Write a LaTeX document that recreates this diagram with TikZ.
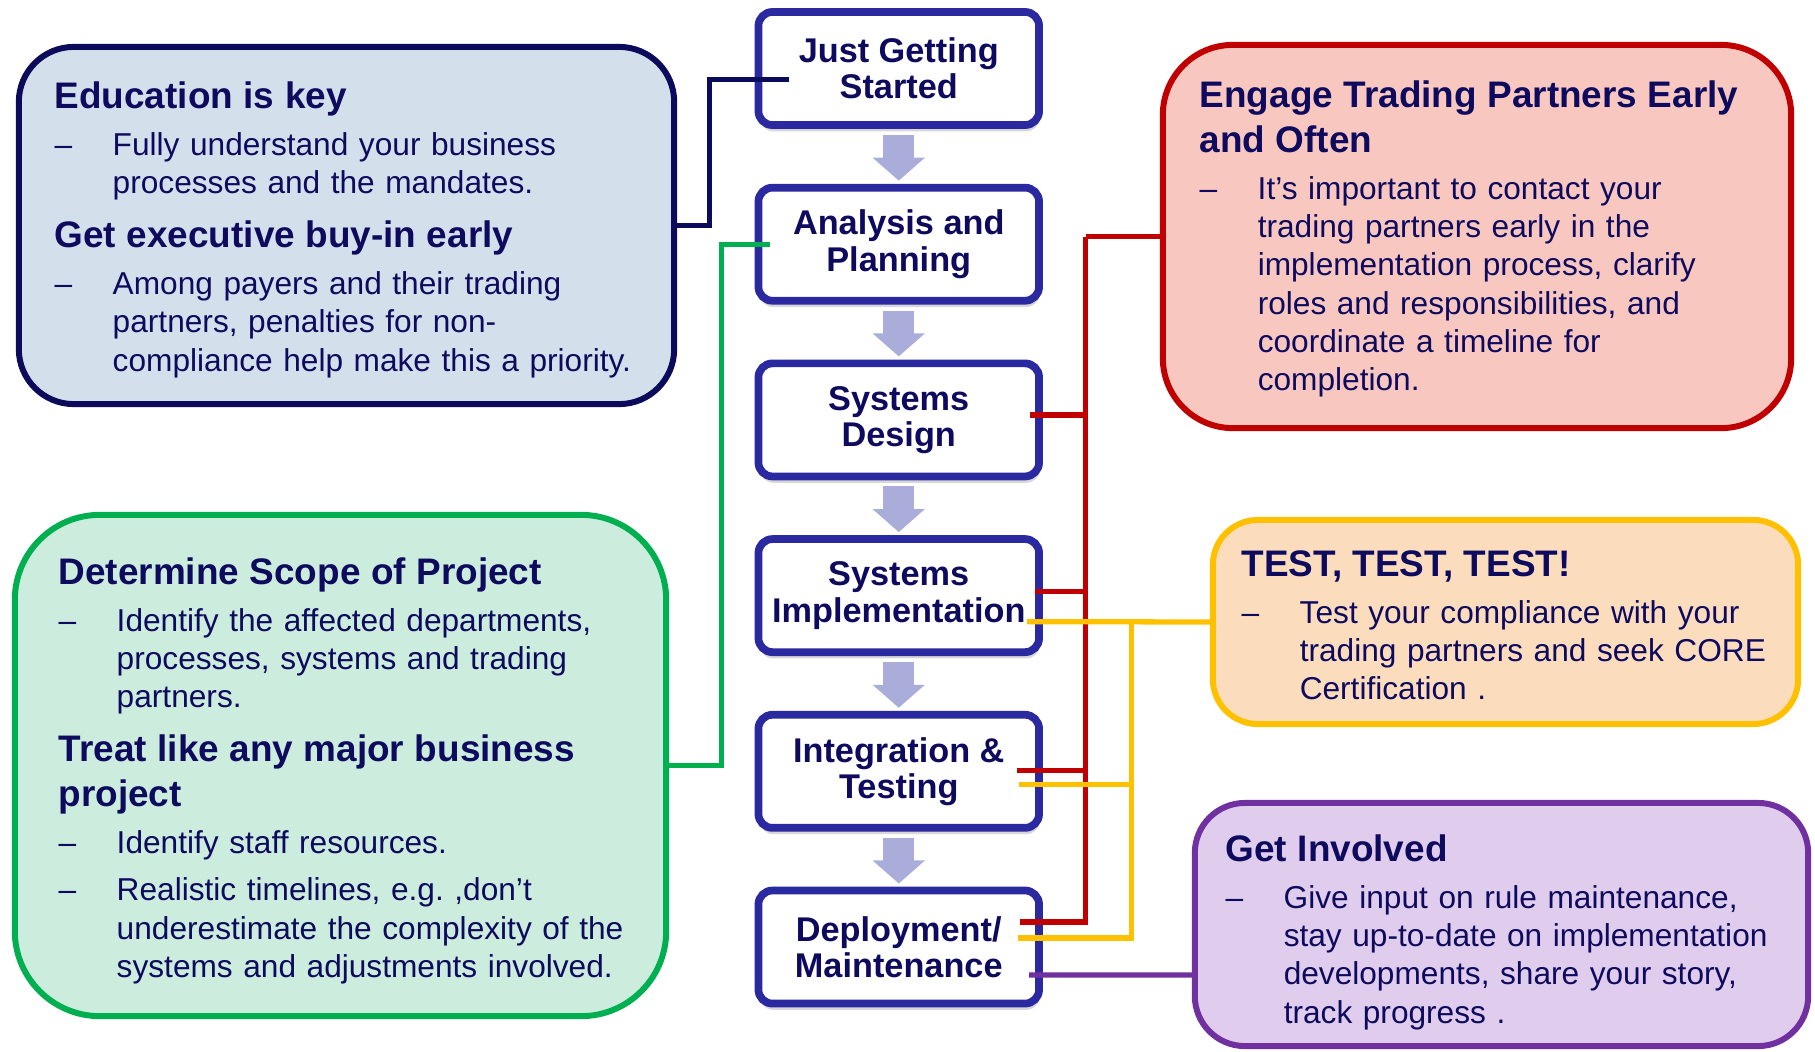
\documentclass[tikz,border=0pt]{standalone}
\usepackage{fontspec}
\setmainfont{Liberation Sans}
\usepackage{tikz}
\usetikzlibrary{positioning,calc,arrows.meta,shadows}

\definecolor{navytext}{RGB}{14,10,94}
\definecolor{stageedge}{RGB}{43,41,160}
\definecolor{arrowfill}{RGB}{170,173,217}
\definecolor{edufill}{RGB}{211,224,236}
\definecolor{edudraw}{RGB}{12,10,90}
\definecolor{scopefill}{RGB}{204,237,222}
\definecolor{scopedraw}{RGB}{0,176,80}
\definecolor{engagefill}{RGB}{248,200,192}
\definecolor{engagedraw}{RGB}{192,0,0}
\definecolor{testfill}{RGB}{251,221,190}
\definecolor{testdraw}{RGB}{255,192,0}
\definecolor{involvefill}{RGB}{224,205,237}
\definecolor{involvedraw}{RGB}{112,48,160}

\newcommand{\ttl}[1]{{\fontsize{10.5}{12.8}\selectfont\bfseries #1\par}}
\newcommand{\itm}[1]{{\hangindent=0.58cm\hangafter=1\noindent\makebox[0.58cm][l]{--}#1\par}}

\begin{document}
\begin{tikzpicture}
    [ x = .01cm, y = -.01cm
    , stage/.style =
      { draw = stageedge, line width = 2.2pt, rounded corners = .14cm, fill = white
      , minimum width = 2.805cm, minimum height = 1.13cm, outer sep = 0pt, inner sep = 0pt
      , text = navytext, align = center, font = \fontsize{9.75}{10.3}\selectfont\bfseries
      , drop shadow = {shadow xshift = .3pt, shadow yshift = -1.8pt, opacity = .35, fill = black!45}
      }
    , panel/.style =
      { line width = 1.7pt, outer sep = 0pt, inner sep = 0pt }
    , words/.style =
      { anchor = base west, inner sep = 0pt, text width = 6cm, align = left, text = navytext
      , font = \fontsize{9}{10.9}\selectfont
      , execute at begin node = {\setlength{\parskip}{2.5pt}}
      }
    , flow/.style =
      { draw = arrowfill, line width = .31cm, -{Triangle[width = .51cm, length = .23cm]} }
    , link/.style =
      { line width = 1.5pt }
    ]
    \useasboundingbox (0,0) rectangle (1815,1051);

    \node [stage] (start) at (898.75,68.5) {Just Getting\\Started};
    \node [stage] (analysis) [below=.626cm of start] {Analysis and\\Planning};
    \node [stage] (sdesign) [below=.626cm of analysis] {Systems\\Design};
    \node [stage] (simpl) [below=.626cm of sdesign] {Systems\\Implementation};
    \node [stage] (integ) [below=.626cm of simpl] {Integration \&\\Testing};
    \node [stage] (deploy) [below=.626cm of integ] {Deployment/\\Maintenance};

    \foreach \a/\b in {start/analysis, analysis/sdesign, sdesign/simpl, simpl/integ, integ/deploy}
        \draw [flow] ($(\a.south)+(0,10)$) -- ($(\b.north)+(0,-7)$);

    \node [panel, draw = edudraw, fill = edufill, rounded corners = .55cm
          , minimum width = 6.55cm, minimum height = 3.57cm] (edu) at (346.5,225.5) {};
    \node [panel, draw = scopedraw, fill = scopefill, rounded corners = .85cm
          , minimum width = 6.51cm, minimum height = 5.01cm] (scope) at (340.5,765.5) {};
    \node [panel, draw = engagedraw, fill = engagefill, rounded corners = .7cm
          , minimum width = 6.28cm, minimum height = 3.83cm] (engage) at (1477,236.5) {};
    \node [panel, draw = testdraw, fill = testfill, rounded corners = .45cm
          , minimum width = 5.85cm, minimum height = 2.04cm] (testing) at (1505.5,622) {};
    \node [panel, draw = involvedraw, fill = involvefill, rounded corners = .5cm
          , minimum width = 6.13cm, minimum height = 2.43cm] (involve) at (1501.5,924.5) {};

    \node [words] (edutext) at (54,108)
        {\ttl{Education is key}
         \itm{Fully understand your business\newline processes and the mandates.}
         \ttl{Get executive buy-in early}
         \itm{Among payers and their trading\newline partners, penalties for non-\newline compliance help make this a priority.}};
    \node [words] (scopetext) at (58,584)
        {\ttl{Determine Scope of Project}
         \itm{Identify the affected departments,\newline processes, systems and trading\newline partners.}
         \ttl{Treat like any major business\newline project}
         \itm{Identify staff resources.}
         \itm{Realistic timelines, e.g.\ ,don’t\newline underestimate the complexity of the\newline systems and adjustments involved.}};
    \node [words] (engagetext) at (1199,107)
        {\ttl{Engage Trading Partners Early\newline and Often}
         \itm{It’s important to contact your\newline trading partners early in the\newline implementation process, clarify\newline roles and responsibilities, and\newline coordinate a timeline for\newline completion.}};
    \node [words] (testtext) at (1241,576)
        {\ttl{TEST, TEST, TEST!}
         \itm{Test your compliance with your\newline trading partners and seek CORE\newline Certification .}};
    \node [words] (involvetext) at (1225,861)
        {\ttl{Get Involved}
         \itm{Give input on rule maintenance,\newline stay up-to-date on implementation\newline developments, share your story,\newline track progress .}};

    \coordinate (redtop) at ($(engage.west)+(-77,0)$);
    \coordinate (yellowtop) at ($(testing.west)+(-81,0)$);

    \draw [link, edudraw] (edu.east) -- ++(35,0) |- ($(start.west)+(31,11)$);
    \draw [link, scopedraw] (scope.east) -- ++(55,0) |- ($(analysis.west)+(12,0)$);
    \draw [link, engagedraw] (engage.west) -- (redtop);
    \draw [link, engagedraw] ($(sdesign.east)+(-9,-5)$) -| (redtop);
    \draw [link, engagedraw] ($(simpl.east)+(-4,-4)$) -| (redtop);
    \draw [link, engagedraw] ($(integ.east)+(-22,-1)$) -| (redtop);
    \draw [link, engagedraw] ($(deploy.east)+(-19,-25)$) -| (redtop);
    \draw [link, testdraw] ($(simpl.east)+(-12,26)$) -- (testing.west);
    \draw [link, testdraw] ($(integ.east)+(-20,13)$) -| (yellowtop);
    \draw [link, testdraw] ($(deploy.east)+(-21,-9)$) -| (yellowtop);
    \draw [link, involvedraw] ($(deploy.east)+(-10,28)$) -- ($(involve.west)+(0,50.5)$);
\end{tikzpicture}
\end{document}
